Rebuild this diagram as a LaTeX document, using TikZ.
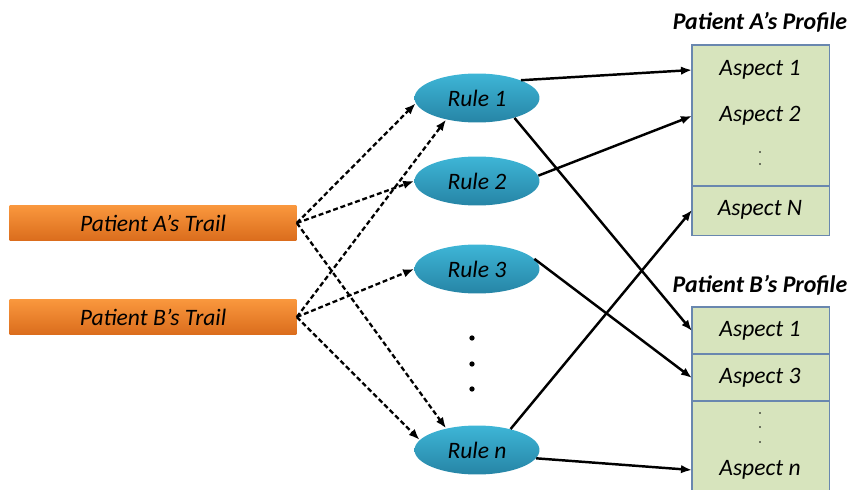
\documentclass[tikz,border=0pt]{standalone}
\usepackage{fontspec}
\setmainfont{Carlito}
\usetikzlibrary{arrows.meta}
\usetikzlibrary{shapes.geometric}
\usetikzlibrary{positioning}

\definecolor{trailtop}{RGB}{250,152,62}
\definecolor{trailbot}{RGB}{218,108,28}
\definecolor{ruletop}{RGB}{62,182,214}
\definecolor{rulebot}{RGB}{38,132,166}
\definecolor{profgreen}{RGB}{215,228,189}
\definecolor{profline}{RGB}{105,135,175}

\begin{document}
\begin{tikzpicture}[
    x = 0.02cm, y = -0.02cm,
    >={Latex[length=2.2mm, width=1.7mm]},
    font = \fontsize{13.4}{16}\selectfont\itshape,
    trail/.style = {
      rectangle, top color = trailtop, bottom color = trailbot,
      minimum width = 5.74cm, minimum height = 0.72cm, inner sep = 0pt
    },
    rule/.style = {
      ellipse, top color = ruletop, bottom color = rulebot,
      minimum width = 2.5cm, minimum height = 0.98cm, inner sep = 0pt
    },
    profile/.style = {
      rectangle, fill = profgreen, anchor = north west,
      minimum width = 2.74cm, inner sep = 0pt
    },
    title/.style = { font = \fontsize{13.6}{16}\selectfont\bfseries\itshape },
    border/.style = { profline, line width = 0.8pt },
    link/.style = { ->, black, line width = 1.4pt },
    feed/.style = { ->, black, line width = 1.3pt, dash pattern = on 2.8pt off 1.6pt },
  ]
    \useasboundingbox (0,0) rectangle (850,490);

    % trails
    \node[trail] (tA) at (153,223) {Patient A’s Trail};
    \node[trail] (tB) at (153,317) {Patient B’s Trail};

    % rules
    \node[rule] (r1) at (477,98)  {Rule 1};
    \node[rule] (r2) at (477,181) {Rule 2};
    \node[rule] (r3) at (477,269) {Rule 3};
    \node[rule] (rn) at (477,450) {Rule n};
    \foreach \y in {338, 364, 389} {
      \fill (472,\y) circle (1.5pt);
    }

    % profile of patient A
    \node[profile, minimum height = 3.8cm] (pA) at (692,45) {};
    \draw[border] (pA.north west) rectangle (pA.south east);
    \draw[border] (692,186) -- (829,186);
    \node[title] (tpA) at (760,22) {Patient A’s Profile};
    \node (aA1) at (760,70)  {Aspect 1};
    \node (aA2) at (760,116) {Aspect 2};
    \node (aAN) at (760,210) {Aspect N};
    \foreach \y in {152, 164} {
      \fill (760,\y) circle (0.5pt);
    }

    % profile of patient B
    \node[profile, minimum height = 3.66cm] (pB) at (692,307) {};
    \draw[border] (pB.south west) -- (pB.north west) -- (pB.north east) -- (pB.south east);
    \draw[border] (692,354) -- (829,354);
    \draw[border] (692,401) -- (829,401);
    \node[title] (tpB) at (760,285) {Patient B’s Profile};
    \node (aB1) at (760,331) {Aspect 1};
    \node (aB3) at (760,378) {Aspect 3};
    \node (aBn) at (760,470) {Aspect n};
    \foreach \y in {413, 427, 442} {
      \fill (760,\y) circle (0.5pt);
    }

    % trails to rules
    \draw[feed] (tA.east) to (r1.185);
    \draw[feed] (tA.east) to (r2.west);
    \draw[feed] (tA.east) to (rn.145);
    \draw[feed] (tB.east) to (r1.215);
    \draw[feed] (tB.east) to (r3.west);
    \draw[feed] (tB.east) to (rn.170);

    % rules to profiles
    \draw[link] (r1.22)  to (pA.west |- aA1);
    \draw[link] (r1.-28) to (pB.west |- aB1);
    \draw[link] (r2.5)   to (pA.west |- aA2);
    \draw[link] (r3.10)  to (pB.west |- aB3);
    \draw[link] (rn.32)  to (pA.west |- aAN);
    \draw[link] (rn.-8)  to (pB.west |- aBn);
\end{tikzpicture}
\end{document}
